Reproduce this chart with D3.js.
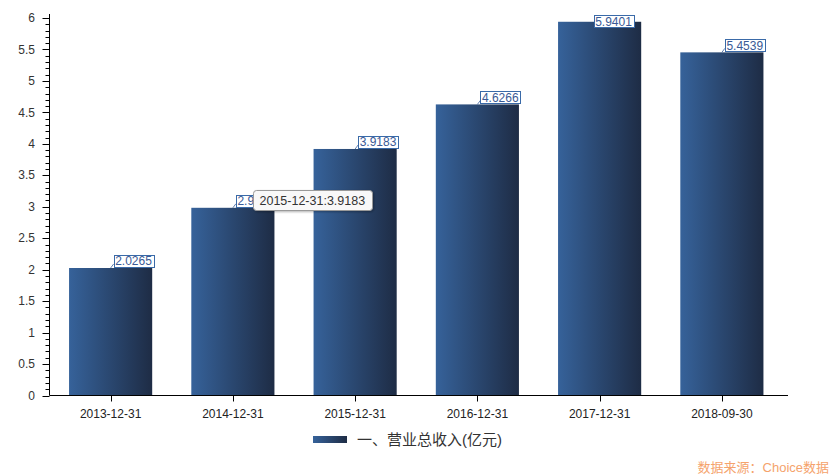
<!DOCTYPE html>
<html><head><meta charset="utf-8">
<script src="https://cdn.jsdelivr.net/npm/d3@7"></script>
<style>
html,body{margin:0;padding:0;background:#fff;}
svg{display:block;font-family:Arial,"Liberation Sans","Noto Sans CJK SC",sans-serif;}
</style></head>
<body><svg id="c" width="831" height="475"></svg>
<script>
const categories = ["2013-12-31","2014-12-31","2015-12-31","2016-12-31","2017-12-31","2018-09-30"];
const values = [2.0265, 2.9834, 3.9183, 4.6266, 5.9401, 5.4539];
const labels = ["2.0265","2.9834","3.9183","4.6266","5.9401","5.4539"];
const yTicks = [0,0.5,1,1.5,2,2.5,3,3.5,4,4.5,5,5.5,6];
const seriesName = "一、营业总收入(亿元)";
const tooltipText = "2015-12-31:3.9183";
const sourceText = "数据来源：Choice数据";

const svg = d3.select("#c");
const m = {l:49.5, r:783, axisEnd:788, t:18, b:395.5};
const x = d3.scaleBand().domain(categories).range([m.l, m.r]).paddingInner(0.32).paddingOuter(0.16);
const y = d3.scaleLinear().domain([0,6]).range([m.b, m.t]);

const defs = svg.append("defs");
const g = defs.append("linearGradient").attr("id","bg").attr("x1","0").attr("x2","1").attr("y1","0").attr("y2","0");
g.append("stop").attr("offset","0").attr("stop-color","#36629a");
g.append("stop").attr("offset","1").attr("stop-color","#1e2c45");
const sh = defs.append("filter").attr("id","sh").attr("x","-10%").attr("y","-20%").attr("width","130%").attr("height","160%");
sh.append("feDropShadow").attr("dx",1).attr("dy",1).attr("stdDeviation",1.2).attr("flood-color","#000").attr("flood-opacity",0.3);

// bars
svg.append("g").selectAll("rect").data(values).join("rect")
  .attr("x",(d,i)=>x(categories[i]))
  .attr("width",x.bandwidth())
  .attr("y",d=>y(d))
  .attr("height",d=>y(0)-y(d))
  .attr("fill","url(#bg)");

// y axis
const ya = svg.append("g");
ya.append("line").attr("x1",m.l).attr("x2",m.l).attr("y1",y(6)-4).attr("y2",m.b).attr("stroke","#000");
const minor = d3.range(0,60).map(i=>i/10).filter(v=>Math.round(v*10)%5!==0);
ya.selectAll("line.mi").data(minor).join("line").attr("class","mi")
  .attr("x1",m.l-4).attr("x2",m.l).attr("y1",d=>Math.round(y(d))+0.5).attr("y2",d=>Math.round(y(d))+0.5).attr("stroke","#000");
ya.selectAll("line.ma").data(yTicks).join("line").attr("class","ma")
  .attr("x1",m.l-7).attr("x2",m.l).attr("y1",d=>Math.round(y(d))+0.5).attr("y2",d=>Math.round(y(d))+0.5).attr("stroke","#000");
ya.selectAll("text").data(yTicks).join("text")
  .attr("x",35).attr("y",d=>y(d)).attr("dy","0.35em").attr("text-anchor","end")
  .attr("font-size",12).attr("fill","#333").text(d=>d);

// x axis
const xa = svg.append("g");
xa.append("line").attr("x1",m.l).attr("x2",m.axisEnd).attr("y1",m.b).attr("y2",m.b).attr("stroke","#000");
xa.selectAll("line.t").data(categories).join("line").attr("class","t")
  .attr("x1",d=>Math.round(x(d)+x.bandwidth()/2)+0.5).attr("x2",d=>Math.round(x(d)+x.bandwidth()/2)+0.5)
  .attr("y1",m.b).attr("y2",m.b+6).attr("stroke","#000");
xa.selectAll("text").data(categories).join("text")
  .attr("x",d=>x(d)+x.bandwidth()/2).attr("y",418).attr("text-anchor","middle")
  .attr("font-size",12).attr("fill","#222").text(d=>d);

// data labels
const lg = svg.append("g");
values.forEach((v,i)=>{
  const cx = x(categories[i])+x.bandwidth()/2;
  const ty = y(v);
  let bx = cx+3, by = ty-13, lead = true;
  if (by < 14) { by = 15; bx = cx-6; lead = false; }
  if (lead) lg.append("line").attr("x1",cx).attr("y1",ty).attr("x2",cx+3).attr("y2",ty-4).attr("stroke","#3a5f9a").attr("stroke-width",0.8);
  const r = lg.append("rect");
  const t = lg.append("text").attr("x",bx+1.5).attr("y",by+10.5).attr("font-size",12).attr("fill","#3a5a96").text(labels[i]);
  const bb = t.node().getBBox();
  r.attr("x",Math.round(bx)+0.5).attr("y",Math.round(by)+0.5)
    .attr("width",Math.round(bb.width+2.5)).attr("height",12)
    .attr("fill","#fff").attr("stroke","#3a6aa8").attr("stroke-width",1);
});

// tooltip
const tg = svg.append("g");
const tx = 253.5, tyy = 190.5;
tg.append("rect").attr("x",tx).attr("y",tyy).attr("width",119).attr("height",20).attr("rx",3)
  .attr("fill","#f8f8f8").attr("stroke","#999").attr("filter","url(#sh)");
tg.append("text").attr("x",tx+6).attr("y",tyy+14.5).attr("font-size",12.5).attr("fill","#333").text(tooltipText);

// legend
const leg = svg.append("g");
leg.append("rect").attr("x",313).attr("y",436).attr("width",34).attr("height",7).attr("fill","url(#bg)");
leg.append("text").attr("x",357).attr("y",445).attr("font-size",15).attr("fill","#333").text(seriesName);

// source
svg.append("text").attr("x",829).attr("y",472).attr("text-anchor","end").attr("font-size",13)
  .attr("fill","#f5a36c").text(sourceText);
</script></body></html>
